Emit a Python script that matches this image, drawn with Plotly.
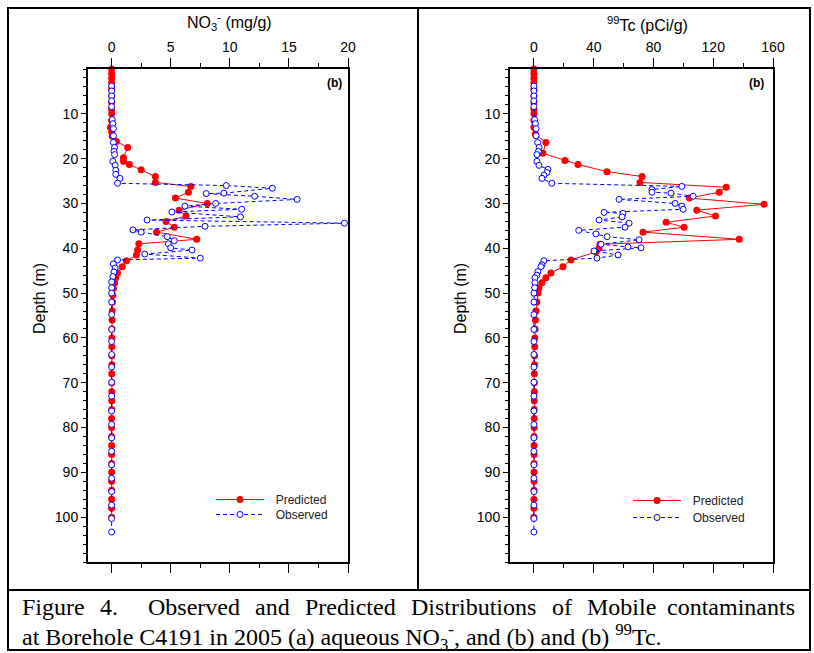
import plotly.graph_objects as go

W, H = 814, 653

# ---------------- data ----------------
# NO3- (mg/g) predicted
no3_pred_depth = [0, 1, 2, 3, 4.5, 6, 7.5, 9, 10, 11.5, 13, 14, 15, 16.2, 17.5, 19.8, 20.6, 21.3, 22.5,
                  24, 25.3, 26.2, 27.5, 28.8, 30, 31.5, 32.8, 34, 35.3, 36.4, 38, 39, 40.4, 41.5,
                  42.8, 44.1, 45.5, 46.5, 47.7, 49, 50.5, 52, 54, 56, 58, 60, 62, 64, 66, 68, 70,
                  72, 74, 76, 78, 80, 82, 84, 86, 88, 90, 92, 94, 96, 98, 100]
no3_pred_val = [0, 0, 0, 0, 0, 0, 0, 0, 0, 0, -0.1, 0, 0.05, 0.4, 1.36, 1.0, 1.0, 1.5, 2.5,
                3.7, 3.7, 6.7, 6.5, 5.4, 8.1, 5.7, 6.3, 4.6, 5.3, 3.8, 7.2, 2.3, 2.2, 2.1,
                1.25, 0.9, 0.5, 0.35, 0.25, 0.15, 0.1, 0.07, 0.05, 0.04, 0.03, 0.03, 0.02, 0.02, 0.02, 0.01, 0.01,
                0.01, 0.01, 0.01, 0, 0, 0, 0, 0, 0, 0, 0, 0, 0, 0, 0]

# NO3- (mg/g) observed
no3_obs_depth = [3.8, 4.9, 6, 7.1, 8.4, 11.3, 12.2, 13.3, 14.9, 16.4, 17.5, 18.4, 19.1, 20.6, 21.5,
                 22.6, 23.5, 24.4, 25.5, 26, 26.6, 27.7, 27.8, 28.4, 29.1, 30, 30.6, 31.3, 31.9,
                 33, 33.7, 34.4, 35.1, 35.9, 36.4, 37.4, 38.3, 39, 39.9, 40.4, 41.3, 42.2, 42.6,
                 43.5, 44.4, 45.3, 46.3, 47.5, 48.8, 50, 52, 54.8, 58.1, 60.8, 63.7, 66.5, 69.9,
                 73, 76.3, 79.3, 82.3, 85.3, 88.3, 91.3, 94.3, 97.3, 100.3, 103.3]
no3_obs_val = [0, 0, 0, 0, 0, 0.05, 0.1, 0.15, 0.15, 0.15, 0.25, 0.2, 0.25, 0.1, 0.3,
               0.35, 0.35, 0.7, 0.5, 9.7, 13.6, 9.5, 8.0, 12.1, 15.7, 8.8, 6.2, 11.0, 5.1,
               10.9, 3.0, 19.7, 7.9, 1.8, 2.5, 4.7, 5.3, 4.8, 5.0, 6.8, 2.8, 7.5, 0.5,
               0.15, 0.3, 0.2, 0.1, 0, 0, 0, 0, 0, 0, 0, 0, 0, 0,
               0, 0, 0, 0, 0, 0, 0, 0, 0, 0, 0]

# 99Tc (pCi/g) predicted
tc_pred_depth = [0, 1, 2, 3, 4.5, 6, 7.5, 9, 10, 11.5, 13, 14.5, 16.4, 18.8, 20.4, 21.3, 22.9,
                 24, 25.3, 26.4, 27.5, 28.8, 30.2, 31.5, 32.8, 34.2, 35.3, 36.4, 38, 39.1, 40,
                 40.8, 42.6, 44.1, 45.5, 46.6, 47.7, 48.8, 50, 52, 54, 56, 58, 60, 62, 64, 66,
                 68, 70, 72, 74, 76, 78, 80, 82, 84, 86, 88, 90, 92, 94, 96, 98, 100]
tc_pred_val = [0, 0, 0, 0, 0, 0, 0, 0, 0, 0, 0, 1, 8, 6, 20.8, 29.5, 48.9,
               72.4, 71, 128.7, 124, 104, 154, 109, 121.5, 88.5, 100.5, 73, 137.4, 44.2, 43.6,
               41.6, 24.8, 19.4, 11.4, 8, 5.4, 3.4, 2.7, 2.0, 1.4, 1.0, 0.8, 0.6, 0.5, 0.4, 0.4,
               0.3, 0.3, 0.3, 0.2, 0.2, 0.2, 0.2, 0.1, 0.1, 0.1, 0.1, 0.1, 0.1, 0.1, 0, 0, 0]

# 99Tc (pCi/g) observed
tc_obs_depth = [3.8, 4.9, 6, 7.1, 8.4, 11.3, 12.2, 13.3, 14.9, 16.4, 17.5, 18.4, 19.1, 20.6, 21.5,
                22.4, 23.1, 23.7, 24.4, 25.5, 26.2, 26.9, 27.5, 27.7, 28.4, 29.1, 30, 30.6, 31.3,
                32, 32.2, 33, 33.7, 34.4, 35.3, 36, 36.8, 37.4, 38.1, 39.1, 39.7, 39.9, 40.6,
                41.5, 42.2, 42.8, 43.7, 44.1, 45.2, 46, 46.6, 47.7, 48.8, 50, 52, 54.8, 58.1,
                60.8, 63.7, 66.5, 69.9, 73, 76.3, 79.3, 82.3, 85.3, 88.3, 91.3, 94.3, 97.3,
                100.3, 103.3]
tc_obs_val = [0, 0, 0, 0, 0, 0.5, 1, 1.5, 1.5, 2.5, 3.5, 3, 2, 2, 3.4,
              9.4, 8.7, 6.7, 5.4, 12, 99, 79, 79, 91.8, 106.6, 57, 94.5, 99, 99.9,
              47, 59.6, 59, 43.6, 63.7, 61, 30, 41.5, 49, 70.4, 44.9, 63, 71.7, 40.2,
              56.3, 42.2, 6.7, 5.4, 4.7, 2.7, 2, 0.7, 0.7, 0.5, 0, 0, 0, 0,
              0, 0, 0, 0, 0, 0, 0, 0, 0, 0, 0, 0, 0,
              0, 0]

depth_ticks = [10, 20, 30, 40, 50, 60, 70, 80, 90, 100]
no3_ticks = [0, 5, 10, 15, 20]
tc_ticks = [0, 40, 80, 120, 160]

caption_line1_words = ["Figure", "4.", "Observed", "and", "Predicted", "Distributions", "of",
                       "Mobile", "contaminants"]
caption_line2 = "at Borehole C4191 in 2005 (a) aqueous NO<sub>3</sub><sup>-</sup>, and (b) and (b) <sup>99</sup>Tc."

RED = "#ff0000"
BLUE = "#0000ff"
FONT = "Liberation Sans, Arial, sans-serif"
SERIF = "Liberation Serif, Times New Roman, serif"

def px(x):
    return x / W

def py(y):
    return 1 - y / H

fig = go.Figure()

NB = "&nbsp;&nbsp;"

def add_pair(xa, ya, pd, pv, od, ov, leg_p, leg_o):
    fig.add_trace(go.Scatter(
        x=pv, y=pd, xaxis=xa, yaxis=ya, mode="lines+markers", name=NB + "Predicted",
        line=dict(color=RED, width=1), marker=dict(color=RED, size=7, symbol="circle"),
        cliponaxis=False, legend=leg_p))
    fig.add_trace(go.Scatter(
        x=ov, y=od, xaxis=xa, yaxis=ya, mode="lines+markers", name=NB + "Observed",
        line=dict(color=BLUE, width=1, dash="4px,3px"),
        marker=dict(color="white", size=6, symbol="circle", line=dict(color=BLUE, width=1)),
        cliponaxis=False, legend=leg_o))

add_pair("x", "y", no3_pred_depth, no3_pred_val, no3_obs_depth, no3_obs_val, "legend", "legend3")
add_pair("x2", "y2", tc_pred_depth, tc_pred_val, tc_obs_depth, tc_obs_val, "legend2", "legend4")

TICK = 14
ydom = [py(562), py(69)]
common_x = dict(side="top", showline=True, linewidth=2, linecolor="black", mirror="ticks",
                ticks="outside", ticklen=9, tickwidth=1, tickcolor="black",
                showgrid=False, zeroline=False, tickfont=dict(size=TICK, color="black", family=FONT),
                tickmode="array", fixedrange=True)
common_y = dict(showline=True, linewidth=2, linecolor="black", mirror=True,
                ticks="outside", ticklen=5, tickwidth=1, tickcolor="black",
                showgrid=False, zeroline=False, tickfont=dict(size=TICK, color="black", family=FONT),
                tickmode="array", tickvals=depth_ticks, range=[110, 0], domain=ydom,
                minor=dict(ticks="outside", dtick=2, tick0=0, ticklen=3, tickcolor="black", showgrid=False))

def leg(x, yc):
    return dict(x=px(x), y=py(yc - 14), xanchor="left", yanchor="top", bgcolor="rgba(0,0,0,0)",
                font=dict(size=12, family=FONT, color="#222"), itemwidth=48, tracegroupgap=0)

fig.update_layout(
    width=W, height=H, margin=dict(l=0, r=0, t=0, b=0),
    template="none", paper_bgcolor="white", plot_bgcolor="white",
    font=dict(family=FONT, color="black"),
    xaxis=dict(common_x, domain=[px(88), px(348)], range=[-2, 20], tickvals=no3_ticks, anchor="y",
               minor=dict(ticks="outside", dtick=2.5, tick0=0, ticklen=4, tickcolor="black", showgrid=False)),
    yaxis=dict(common_y, anchor="x"),
    xaxis2=dict(common_x, domain=[px(510), px(773)], range=[-16, 160], tickvals=tc_ticks, anchor="y2",
                minor=dict(ticks="outside", dtick=20, tick0=0, ticklen=4, tickcolor="black", showgrid=False)),
    yaxis2=dict(common_y, anchor="x2"),
    legend=leg(211, 499),
    legend3=leg(211, 514),
    legend2=leg(628, 500),
    legend4=leg(628, 517),
    showlegend=True,
)

TITLE = 16
ann = []
ann.append(dict(text="NO<sub>3</sub><sup>-</sup> (mg/g)", x=px(229), y=py(22), xref="paper", yref="paper",
                xanchor="center", yanchor="middle",
                showarrow=False, font=dict(size=TITLE, family=FONT)))
ann.append(dict(text="<sup>99</sup>Tc (pCi/g)", x=px(647), y=py(24), xref="paper", yref="paper",
                xanchor="center", yanchor="middle",
                showarrow=False, font=dict(size=TITLE, family=FONT)))
for xx in (40, 461):
    ann.append(dict(text="Depth (m)", x=px(xx), y=py(299), xref="paper", yref="paper", textangle=-90,
                    xanchor="center", yanchor="middle",
                    showarrow=False, font=dict(size=TITLE, family=FONT)))
for xx in (334, 756):
    ann.append(dict(text="<b>(b)</b>", x=px(xx), y=py(83), xref="paper", yref="paper",
                    xanchor="center", yanchor="middle",
                    showarrow=False, font=dict(size=12, family=FONT)))

# caption line 1 is justified across the cell (word start positions in px)
CAP = 24
word_x = [20, 98, 146, 253, 303, 409, 550, 585, 797]
for i, (wd, xx) in enumerate(zip(caption_line1_words, word_x)):
    last = i == len(caption_line1_words) - 1
    ann.append(dict(text=wd, x=px(xx), y=py(607), xref="paper", yref="paper",
                    xanchor="right" if last else "left", yanchor="middle",
                    showarrow=False, font=dict(size=CAP, family=SERIF)))
ann.append(dict(text=caption_line2,
                x=px(20), y=py(637), xref="paper", yref="paper", xanchor="left", yanchor="middle",
                showarrow=False, font=dict(size=CAP, family=SERIF)))
fig.update_layout(annotations=ann)

shapes = []
lw = 2
shapes.append(dict(type="rect", xref="paper", yref="paper", x0=px(8), x1=px(810), y0=py(650), y1=py(8),
                   line=dict(color="black", width=lw)))
shapes.append(dict(type="line", xref="paper", yref="paper", x0=px(418), x1=px(418), y0=py(590), y1=py(8),
                   line=dict(color="black", width=lw)))
shapes.append(dict(type="line", xref="paper", yref="paper", x0=px(8), x1=px(810), y0=py(590), y1=py(590),
                   line=dict(color="black", width=lw)))
fig.update_layout(shapes=shapes)

fig.write_html("out.html")
